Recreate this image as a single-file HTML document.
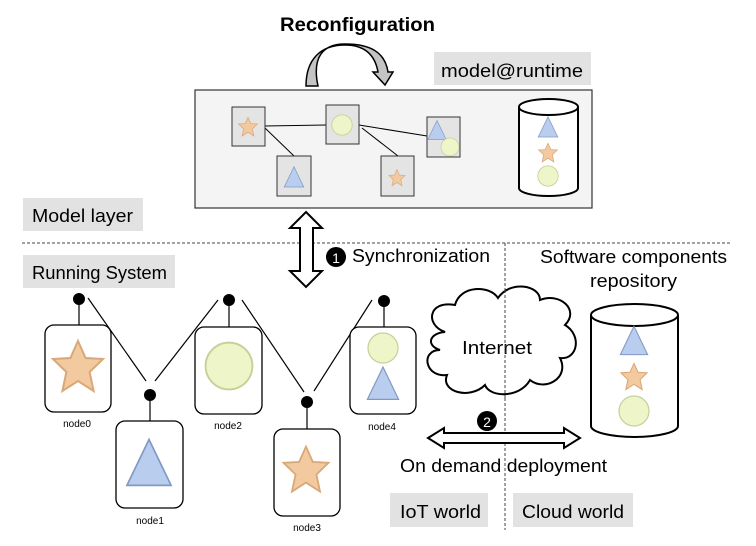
<!DOCTYPE html>
<html><head><meta charset="utf-8"><style>
html,body{margin:0;padding:0;background:#fff}
svg{display:block}
text{font-family:"Liberation Sans","DejaVu Sans",sans-serif;fill:#000}
</style></head><body>
<svg width="756" height="546" viewBox="0 0 756 546" xmlns="http://www.w3.org/2000/svg">
<defs>
<g id="star"><polygon points="0,-13 3.8,-4.5 12.5,-4 5.8,2.5 7.8,12 0,7 -7.8,12 -5.8,2.5 -12.5,-4 -3.8,-4.5" fill="#f3c9a0" stroke="#d9a878" stroke-width="1"/></g>
<g id="tri"><polygon points="0,-15 13,12 -13,12" fill="#b9cdee" stroke="#8199c4" stroke-width="1"/></g>
<g id="circ"><circle r="12" fill="#eef5c8" stroke="#c4d29a" stroke-width="1"/></g>
</defs>
<text x="280" y="31" font-size="19" font-weight="bold" textLength="155" lengthAdjust="spacingAndGlyphs">Reconfiguration</text>
<path d="M306,86 C306,60 320,45 345,45 C365,45 375,55 378,72 L373,72 L385,85 L393,72 L388,72 C385,52 370,44 345,44 C322,44 312,58 318,86 Z" fill="#c4c4c4" stroke="#000" stroke-width="1.5"/>
<rect x="434" y="52" width="157" height="33" fill="#e2e2e2"/>
<text x="441" y="77" font-size="18" textLength="142" lengthAdjust="spacingAndGlyphs">model@runtime</text>
<rect x="195" y="90" width="397" height="118" fill="#f4f4f4" stroke="#333" stroke-width="1.2"/>
<g stroke="#000" stroke-width="1"><line x1="265" y1="126" x2="326" y2="125"/><line x1="265" y1="128" x2="294" y2="156"/><line x1="359" y1="125" x2="427" y2="136"/><line x1="362" y1="128" x2="398" y2="156"/></g>
<g fill="#e4e4e4" stroke="#333" stroke-width="1">
<rect x="232" y="107" width="33" height="39"/><rect x="326" y="105" width="33" height="39"/><rect x="427" y="117" width="33" height="40"/><rect x="277" y="156" width="34" height="40"/><rect x="381" y="156" width="33" height="40"/></g>
<use href="#star" transform="translate(248,127) scale(0.75)"/>
<use href="#circ" transform="translate(342,125) scale(0.85)"/>
<use href="#tri" transform="translate(437,131) scale(0.7)"/>
<use href="#circ" transform="translate(450,147) scale(0.75)"/>
<use href="#tri" transform="translate(294,178) scale(0.75)"/>
<use href="#star" transform="translate(397,178) scale(0.65)"/>
<g fill="#fff" stroke="#000" stroke-width="2"><path d="M519,107 L519,188 A29.5,8 0 0 0 578,188 L578,107"/><ellipse cx="548.5" cy="107" rx="29.5" ry="8"/></g>
<use href="#tri" transform="translate(548,128) scale(0.75)"/>
<use href="#star" transform="translate(548,153) scale(0.75)"/>
<use href="#circ" transform="translate(548,176) scale(0.85)"/>
<rect x="23" y="198" width="120" height="33" fill="#e2e2e2"/>
<text x="32" y="222" font-size="18" textLength="101" lengthAdjust="spacingAndGlyphs">Model layer</text>
<rect x="23" y="255" width="152" height="33" fill="#e2e2e2"/>
<text x="32" y="279" font-size="18" textLength="135" lengthAdjust="spacingAndGlyphs">Running System</text>
<line x1="22" y1="243" x2="730" y2="243" stroke="#444" stroke-width="1" stroke-dasharray="3,2"/>
<line x1="505" y1="243" x2="505" y2="530" stroke="#444" stroke-width="1" stroke-dasharray="3,2"/>
<path d="M306,212 L322,228 L313,228 L313,271 L322,271 L306,287 L290,271 L300,271 L300,228 L290,228 Z" fill="#fff" stroke="#000" stroke-width="2"/>
<circle cx="336" cy="257" r="10" fill="#000"/><text x="336" y="263" font-size="14" text-anchor="middle" style="fill:#fff">1</text>
<text x="352" y="262" font-size="18" textLength="138" lengthAdjust="spacingAndGlyphs">Synchronization</text>
<text x="540" y="263" font-size="18" textLength="187" lengthAdjust="spacingAndGlyphs">Software components</text>
<text x="590" y="287" font-size="18" textLength="87" lengthAdjust="spacingAndGlyphs">repository</text>
<g stroke="#000" stroke-width="1.2"><line x1="88" y1="298" x2="146" y2="381"/><line x1="155" y1="381" x2="218" y2="300"/><line x1="242" y1="300" x2="304" y2="392"/><line x1="314" y1="391" x2="372" y2="300"/>
<line x1="79" y1="299" x2="79" y2="325"/><line x1="150" y1="395" x2="150" y2="421"/><line x1="229" y1="300" x2="229" y2="327"/><line x1="307" y1="402" x2="307" y2="429"/><line x1="384" y1="301" x2="384" y2="327"/></g>
<g fill="#000"><circle cx="79" cy="299" r="6"/><circle cx="150" cy="395" r="6"/><circle cx="229" cy="300" r="6"/><circle cx="307" cy="402" r="6"/><circle cx="384" cy="301" r="6"/></g>
<g fill="#fff" stroke="#000" stroke-width="1.3">
<rect x="45" y="325" width="66" height="87" rx="9"/><rect x="116" y="421" width="67" height="87" rx="9"/><rect x="195" y="327" width="67" height="87" rx="9"/><rect x="274" y="429" width="66" height="87" rx="9"/><rect x="350" y="327" width="66" height="87" rx="9"/></g>
<use href="#star" transform="translate(78,367) scale(2)"/>
<use href="#tri" transform="translate(149,465) scale(1.7)"/>
<use href="#circ" transform="translate(229,366) scale(1.95)"/>
<use href="#star" transform="translate(306,470) scale(1.8)"/>
<use href="#circ" transform="translate(383,348) scale(1.25)"/>
<use href="#tri" transform="translate(383,385) scale(1.2)"/>
<g font-size="10" text-anchor="middle"><text x="77" y="427">node0</text><text x="150" y="524">node1</text><text x="228" y="429">node2</text><text x="307" y="531">node3</text><text x="382" y="430">node4</text></g>
<path d="M445,332 C425,325 428,300 455,305 C460,285 490,285 498,298 C510,280 540,285 540,300 C560,292 580,310 565,325 C582,335 578,360 560,358 C570,378 545,392 530,380 C520,398 490,398 485,385 C470,400 440,392 447,375 C425,378 420,350 440,350 C425,345 430,333 445,332 Z" fill="#fff" stroke="#000" stroke-width="2"/>
<text x="462" y="354" font-size="18" textLength="70" lengthAdjust="spacingAndGlyphs">Internet</text>
<line x1="505" y1="290" x2="505" y2="400" stroke="#444" stroke-width="1" stroke-dasharray="3,2"/>
<circle cx="487" cy="421" r="10" fill="#000"/><text x="487" y="427" font-size="14" text-anchor="middle" style="fill:#fff">2</text>
<path d="M428,438 L444,428 L444,433 L564,433 L564,428 L580,438 L564,448 L564,443 L444,443 L444,448 Z" fill="#fff" stroke="#000" stroke-width="2"/>
<text x="400" y="472" font-size="18" textLength="207" lengthAdjust="spacingAndGlyphs">On demand deployment</text>
<g fill="#fff" stroke="#000" stroke-width="2"><path d="M591,315 L591,426 A43.5,11 0 0 0 678,426 L678,315"/><ellipse cx="634.5" cy="315" rx="43.5" ry="11"/></g>
<use href="#tri" transform="translate(634,342) scale(1.05)"/>
<use href="#star" transform="translate(634,377) scale(1.05)"/>
<use href="#circ" transform="translate(634,411) scale(1.25)"/>
<rect x="390" y="493" width="98" height="34" fill="#e2e2e2"/>
<text x="400" y="518" font-size="18" textLength="81" lengthAdjust="spacingAndGlyphs">IoT world</text>
<rect x="513" y="493" width="120" height="34" fill="#e2e2e2"/>
<text x="522" y="518" font-size="18" textLength="102" lengthAdjust="spacingAndGlyphs">Cloud world</text>
</svg>
</body></html>
